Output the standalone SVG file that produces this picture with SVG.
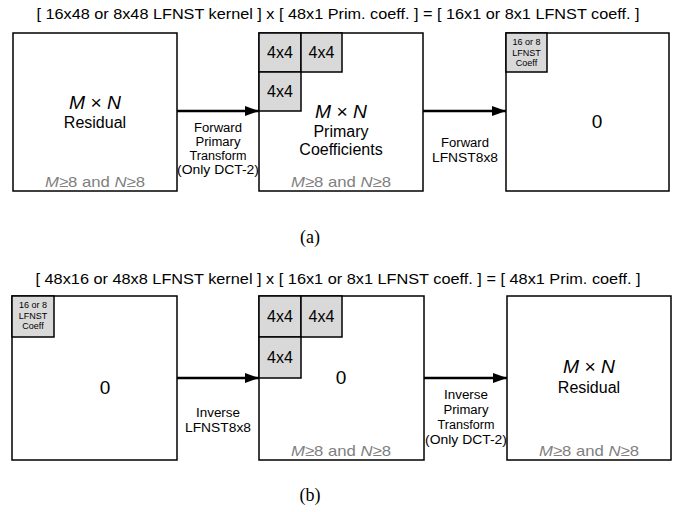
<svg xmlns="http://www.w3.org/2000/svg" width="677" height="512" viewBox="0 0 677 512">
<style>
text{font-family:"Liberation Sans",Arial,sans-serif;fill:#000}
.box{fill:#fff;stroke:#000;stroke-width:1.5}
.cell{fill:#d9d9d9;stroke:#000;stroke-width:1.5}
.title{font-size:15px}
.big{font-size:18px}
.mid{font-size:16px}
.lbl{font-size:12px}
.cnd{font-size:15px;fill:#808080}
.cnd tspan{fill:#808080}
.tiny{font-size:9px}
.zero{font-size:19px}
.cap{font-family:"Liberation Serif","Times New Roman",serif;font-size:18px}
.conn{stroke:#000;stroke-width:2.5;fill:none}
</style>
<defs>
<marker id="ah" markerWidth="14" markerHeight="10" refX="14" refY="5" orient="auto" markerUnits="userSpaceOnUse">
<path d="M0,0 L14,5 L0,10 z" fill="#000"/>
</marker>
</defs>

<text class="title" x="338" y="19" text-anchor="middle" textLength="603" lengthAdjust="spacingAndGlyphs">[ 16x48 or 8x48 LFNST kernel ] x [ 48x1 Prim. coeff. ] = [ 16x1 or 8x1 LFNST coeff. ]</text>

<g id="a-residual">
<rect class="box" x="13" y="33" width="164" height="158"/>
<text class="big" x="95" y="109" text-anchor="middle" textLength="52" lengthAdjust="spacingAndGlyphs"><tspan font-style="italic">M</tspan> × <tspan font-style="italic">N</tspan></text>
<text class="mid" x="95" y="128" text-anchor="middle">Residual</text>
<text class="cnd" x="95" y="187" text-anchor="middle" textLength="100" lengthAdjust="spacingAndGlyphs"><tspan font-style="italic">M</tspan>≥8 and <tspan font-style="italic">N</tspan>≥8</text>
</g>

<g id="a-primary">
<rect class="box" x="259" y="33" width="164" height="158"/>
<rect class="cell" x="259" y="33" width="42" height="39"/>
<rect class="cell" x="301" y="33" width="41" height="39"/>
<rect class="cell" x="259" y="72" width="42" height="39"/>
<text class="mid" x="280" y="58" text-anchor="middle">4x4</text>
<text class="mid" x="321.5" y="58" text-anchor="middle">4x4</text>
<text class="mid" x="280" y="97" text-anchor="middle">4x4</text>
<text class="big" x="341" y="118" text-anchor="middle" textLength="52" lengthAdjust="spacingAndGlyphs"><tspan font-style="italic">M</tspan> × <tspan font-style="italic">N</tspan></text>
<text class="mid" x="341" y="137" text-anchor="middle">Primary</text>
<text class="mid" x="341" y="155" text-anchor="middle">Coefficients</text>
<text class="cnd" x="341" y="187" text-anchor="middle" textLength="100" lengthAdjust="spacingAndGlyphs"><tspan font-style="italic">M</tspan>≥8 and <tspan font-style="italic">N</tspan>≥8</text>
</g>

<g id="a-lfnst">
<rect class="box" x="506" y="33" width="163" height="158"/>
<rect class="cell" x="506" y="33" width="41" height="39"/>
<text class="tiny" x="526.5" y="45" text-anchor="middle">16 or 8</text>
<text class="tiny" x="526.5" y="56" text-anchor="middle">LFNST</text>
<text class="tiny" x="526.5" y="66" text-anchor="middle">Coeff</text>
<text class="zero" x="597" y="128" text-anchor="middle">0</text>
</g>

<g id="b-lfnst">
<rect class="box" x="12" y="296" width="165" height="164"/>
<rect class="cell" x="12" y="296" width="42" height="41"/>
<text class="tiny" x="33" y="308" text-anchor="middle">16 or 8</text>
<text class="tiny" x="33" y="319" text-anchor="middle">LFNST</text>
<text class="tiny" x="33" y="329" text-anchor="middle">Coeff</text>
<text class="zero" x="105" y="394" text-anchor="middle">0</text>
</g>

<g id="b-primary">
<rect class="box" x="259" y="296" width="165" height="164"/>
<rect class="cell" x="259" y="296" width="42" height="41"/>
<rect class="cell" x="301" y="296" width="41" height="41"/>
<rect class="cell" x="259" y="337" width="42" height="41"/>
<text class="mid" x="280" y="322" text-anchor="middle">4x4</text>
<text class="mid" x="321.5" y="322" text-anchor="middle">4x4</text>
<text class="mid" x="280" y="363" text-anchor="middle">4x4</text>
<text class="zero" x="341" y="384" text-anchor="middle">0</text>
<text class="cnd" x="341" y="456" text-anchor="middle" textLength="100" lengthAdjust="spacingAndGlyphs"><tspan font-style="italic">M</tspan>≥8 and <tspan font-style="italic">N</tspan>≥8</text>
</g>

<g id="b-residual">
<rect class="box" x="507" y="296" width="164" height="164"/>
<text class="big" x="589" y="373" text-anchor="middle" textLength="52" lengthAdjust="spacingAndGlyphs"><tspan font-style="italic">M</tspan> × <tspan font-style="italic">N</tspan></text>
<text class="mid" x="589" y="393" text-anchor="middle">Residual</text>
<text class="cnd" x="589" y="456" text-anchor="middle" textLength="100" lengthAdjust="spacingAndGlyphs"><tspan font-style="italic">M</tspan>≥8 and <tspan font-style="italic">N</tspan>≥8</text>
</g>

<g id="connectors">
<line class="conn" x1="177" y1="111" x2="259" y2="111" marker-end="url(#ah)"/>
<line class="conn" x1="423" y1="111" x2="506" y2="111" marker-end="url(#ah)"/>
<line class="conn" x1="177" y1="378" x2="259" y2="378" marker-end="url(#ah)"/>
<line class="conn" x1="424" y1="378" x2="507" y2="378" marker-end="url(#ah)"/>
<text class="lbl" x="218" y="132" text-anchor="middle" textLength="48" lengthAdjust="spacingAndGlyphs">Forward</text>
<text class="lbl" x="218" y="146" text-anchor="middle" textLength="45" lengthAdjust="spacingAndGlyphs">Primary</text>
<text class="lbl" x="218" y="160" text-anchor="middle" textLength="57" lengthAdjust="spacingAndGlyphs">Transform</text>
<text class="lbl" x="218" y="174" text-anchor="middle" textLength="82" lengthAdjust="spacingAndGlyphs">(Only DCT-2)</text>
<text class="lbl" x="465" y="147" text-anchor="middle" textLength="48" lengthAdjust="spacingAndGlyphs">Forward</text>
<text class="lbl" x="465" y="162" text-anchor="middle" textLength="66" lengthAdjust="spacingAndGlyphs">LFNST8x8</text>
<text class="lbl" x="218" y="417" text-anchor="middle" textLength="44" lengthAdjust="spacingAndGlyphs">Inverse</text>
<text class="lbl" x="218" y="432" text-anchor="middle" textLength="66" lengthAdjust="spacingAndGlyphs">LFNST8x8</text>
<text class="lbl" x="466" y="399" text-anchor="middle" textLength="44" lengthAdjust="spacingAndGlyphs">Inverse</text>
<text class="lbl" x="466" y="414" text-anchor="middle" textLength="45" lengthAdjust="spacingAndGlyphs">Primary</text>
<text class="lbl" x="466" y="429" text-anchor="middle" textLength="57" lengthAdjust="spacingAndGlyphs">Transform</text>
<text class="lbl" x="466" y="444" text-anchor="middle" textLength="82" lengthAdjust="spacingAndGlyphs">(Only DCT-2)</text>
</g>

<text class="title" x="338" y="284" text-anchor="middle" textLength="605" lengthAdjust="spacingAndGlyphs">[ 48x16 or 48x8 LFNST kernel ] x [ 16x1 or 8x1 LFNST coeff. ] = [ 48x1 Prim. coeff. ]</text>
<text class="cap" x="310" y="243" text-anchor="middle">(a)</text>
<text class="cap" x="310" y="501" text-anchor="middle">(b)</text>
</svg>
